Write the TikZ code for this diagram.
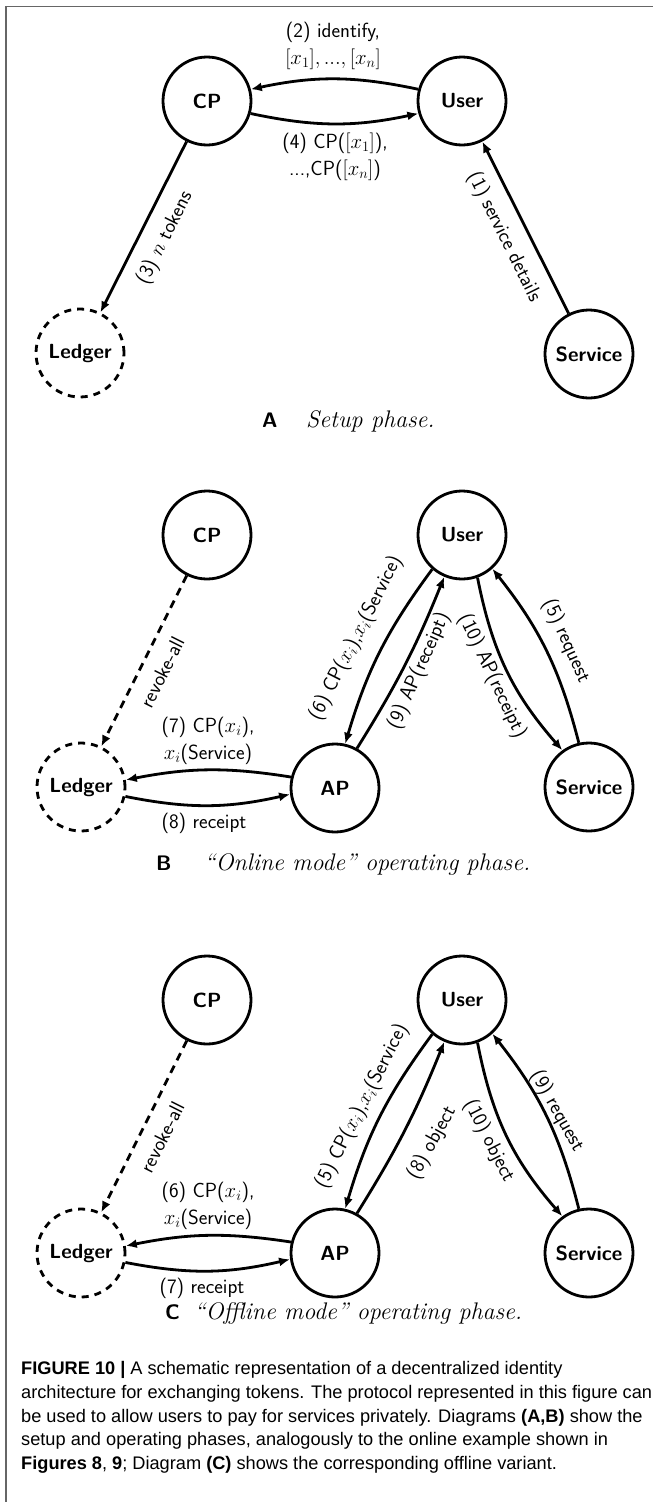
\documentclass[tikz,border=0pt]{standalone}
\usepackage{fontspec}
\newfontfamily\capfont{Liberation Sans}
\usetikzlibrary{arrows.meta}
\begin{document}
\begin{tikzpicture}[x=1pt,y=1pt,
 st/.style={circle, draw, line width=2.8pt, minimum size=88pt, inner sep=0pt, font=\sffamily\bfseries\fontsize{20.5}{24}\selectfont},
 ld/.style={st, dash pattern=on 7pt off 6pt},
 ed/.style={line width=2.8pt, -{Latex[length=11pt,width=9pt]}},
 dd/.style={ed, dash pattern=on 8pt off 6pt},
 lab/.style={font=\sffamily\fontsize{20.5}{27}\selectfont, inner sep=0pt, align=center},
 subcap/.style={anchor=base west, inner sep=0pt, font=\fontsize{24}{28}\selectfont\itshape},
 subkey/.style={anchor=base west, inner sep=0pt, font=\sffamily\bfseries\fontsize{21}{24}\selectfont},
 figcap/.style={anchor=base west, inner sep=0pt, font=\capfont\fontsize{18.2}{23.8}\selectfont},
]
\useasboundingbox (0,0) rectangle (653,-1502);
\fill[white] (0,0) rectangle (653,-1502);
\draw[line width=1.6pt, black!60] (653,-6.5) -- (6.2,-6.5) -- (6.2,-1502);

% ---------- Panel A ----------
\node[st] (CPa) at (207,-101) {CP};
\node[st] (Ua) at (462,-101) {User};
\node[ld] (La) at (80,-353) {Ledger};
\node[st] (Sa) at (589,-354) {Service};
\draw[ed] (Ua.165) to[bend right=12] (CPa.15);
\draw[ed] (CPa.-16) to[bend right=12] (Ua.196);
\draw[ed] (CPa) -- (La);
\draw[ed] (Sa) -- (Ua);
\node[lab] (l2) at (333,-46) {(2) identify,\\$[x_1], ..., [x_n]$};
\node[lab] (l4) at (335,-157) {(4) CP($[x_1]$),\\...,CP($[x_n]$)};
\node[lab, rotate=63.3] (l3) at (165,-238) {(3) $n$ tokens};
\node[lab, rotate=-63.6] (l1) at (504,-237) {(1) service details};
\node[subkey] (ka) at (262,-427) {A};
\node[subcap] (ca) at (306,-427) {Setup phase.};

% ---------- Panel B ----------
\node[st] (CPb) at (207,-535) {CP};
\node[st] (Ub) at (462,-535) {User};
\node[ld] (Lb) at (81,-787) {Ledger};
\node[st] (APb) at (335,-788) {AP};
\node[st] (Sb) at (589,-787) {Service};
\draw[dd] (CPb) -- (Lb);
\draw[ed] (APb.166) to[bend right=10] (Lb.9);
\draw[ed] (Lb.-12) to[bend right=12] (APb.188);
\draw[ed] (Ub.229) to[bend right=10] (APb.77);
\draw[ed] (APb.61) to[bend right=5] (Ub.247);
\draw[ed] (Ub.290) to[bend right=15] (Sb.126);
\draw[ed] (Sb.103) to[bend right=12] (Ub.312);
\node[lab, rotate=63.4] (rb) at (162,-672) {revoke-all};
\node[lab] (l7b) at (208,-741) {(7) CP($x_i$),\\$x_i$(Service)};
\node[lab] (l8b) at (204,-823) {(8) receipt};
\node[lab, rotate=63] (l6b) at (356,-638) {(6) CP($x_i$),$x_i$(Service)};
\node[lab, rotate=66] (l9b) at (419,-671) {(9) AP(receipt)};
\node[lab, rotate=-64.7] (l10b) at (492,-676) {(10) AP(receipt)};
\node[lab, rotate=-65.6] (l5b) at (566,-641) {(5) request};
\node[subkey] (kb) at (156,-870) {B};
\node[subcap] (cb) at (204,-870) {“Online mode” operating phase.};

% ---------- Panel C ----------
\node[st] (CPc) at (207,-1000) {CP};
\node[st] (Uc) at (462,-1000) {User};
\node[ld] (Lc) at (81,-1253) {Ledger};
\node[st] (APc) at (335,-1253) {AP};
\node[st] (Sc) at (589,-1253) {Service};
\draw[dd] (CPc) -- (Lc);
\draw[ed] (APc.166) to[bend right=10] (Lc.9);
\draw[ed] (Lc.-12) to[bend right=12] (APc.188);
\draw[ed] (Uc.229) to[bend right=10] (APc.77);
\draw[ed] (APc.61) to[bend right=5] (Uc.247);
\draw[ed] (Uc.290) to[bend right=15] (Sc.126);
\draw[ed] (Sc.103) to[bend right=12] (Uc.312);
\node[lab, rotate=63.4] (rc) at (162,-1137) {revoke-all};
\node[lab] (l6c) at (208,-1206) {(6) CP($x_i$),\\$x_i$(Service)};
\node[lab] (l7c) at (202,-1288) {(7) receipt};
\node[lab, rotate=63] (l5c) at (362,-1106) {(5) CP($x_i$),$x_i$(Service)};
\node[lab, rotate=61] (l8c) at (432,-1143) {(8) object};
\node[lab, rotate=-63] (l10c) at (489,-1141) {(10) object};
\node[lab, rotate=-60.5] (l9c) at (557,-1111) {(9) request};
\node[subkey] (kc) at (165,-1319) {C};
\node[subcap] (cc) at (194,-1319) {“Offline mode” operating phase.};

% ---------- Figure caption ----------
\node[figcap] (f1) at (21,-1374) {\textbf{FIGURE 10 |} A schematic representation of a decentralized identity};
\node[figcap] (f2) at (21,-1398) {architecture for exchanging tokens. The protocol represented in this figure can};
\node[figcap] (f3) at (21,-1422) {be used to allow users to pay for services privately. Diagrams \textbf{(A,B)} show the};
\node[figcap] (f4) at (21,-1445) {setup and operating phases, analogously to the online example shown in};
\node[figcap] (f5) at (21,-1469) {\textbf{Figures 8}, \textbf{9}; Diagram \textbf{(C)} shows the corresponding offline variant.};
\end{tikzpicture}
\end{document}
